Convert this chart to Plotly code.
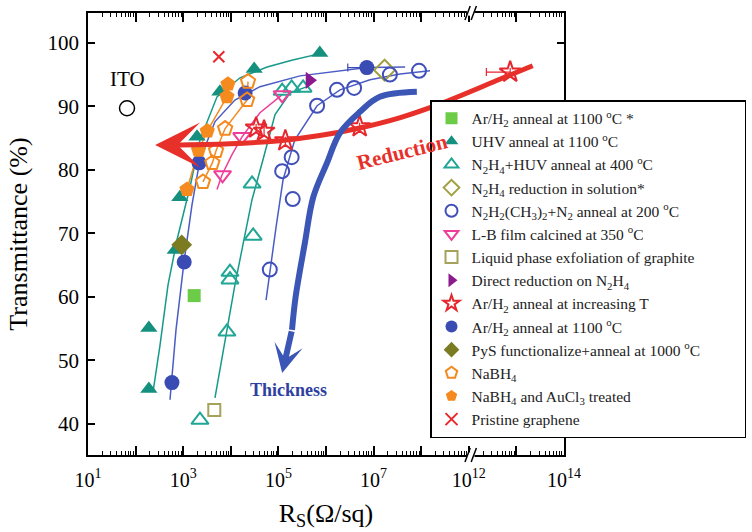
import numpy as np
import plotly.graph_objects as go

# ---------------- data (R in ohm/sq, T in %) ----------------
ito_R = [66]; ito_T = [89.7]
arh2_star_R = [1700]; arh2_star_T = [60.2]
uhv_R = [7.4e5, 3.1e4, 5.9e3, 1.95e3, 850, 680, 190, 190]
uhv_T = [98.4, 95.9, 92.3, 85.2, 75.7, 67.4, 55.1, 45.5]
huv_R = [2.25e3, 8.3e3, 9.6e3, 9.6e3, 2.95e4, 2.8e4, 1.2e5, 1.9e5, 3.3e5]
huv_T = [40.6, 54.5, 62.7, 63.9, 69.6, 77.8, 92.4, 92.9, 92.9]
sol_R = [1.7e7]; sol_T = [95.7]
dmh_R = [6.6e4, 2.0e5, 1.2e5, 1.9e5, 6.5e5, 1.7e6, 3.9e6, 2.2e7, 9e7]
dmh_T = [64.3, 75.4, 79.8, 82.0, 90.1, 92.6, 92.9, 95.0, 95.6]
lb_R = [1.2e5, 1.7e4, 6.7e3]; lb_T = [91.8, 85.2, 79.2]
lpe_R = [4.5e3]; lpe_T = [42.2]
direct_R = [4.5e5]; direct_T = [94.1]
incT_R = [3.4e4, 5e4, 1.4e5, 5.1e6, 7.4e12]; incT_T = [86.6, 86.1, 84.6, 86.8, 95.4]
incT_errminus = [0, 0, 0, 0, 0.5]   # decades
arh2_R = [580, 1050, 2150, 2e4, 7.2e6]; arh2_T = [46.5, 65.5, 81.1, 92.1, 96.1]
arh2_errminus = [0, 0, 0, 0, 0.4]
pys_R = [930]; pys_T = [68.2]
nabh4_R = [2.3e4, 2.2e4, 7.6e3, 4.9e3, 4.1e3, 2.6e3]; nabh4_T = [93.9, 91.0, 86.5, 83.0, 81.1, 78.1]
nabh4au_R = [8.7e3, 8.3e3, 3.2e3, 2.1e3, 1.2e3]; nabh4au_T = [93.5, 91.5, 86.1, 83.1, 76.9]
pristine_R = [5.6e3]; pristine_T = [97.8]

# guide curves
uhv_fit_R = [232, 326, 480, 741, 1390, 2250, 5130, 1.56e4, 5.8e4, 2.0e5, 7.5e5]
uhv_fit_T = [45.0, 52.4, 61.9, 69.0, 77.3, 84.7, 91.5, 94.5, 96.2, 97.3, 98.3]
huv_fit_R = [4650, 7550, 1.22e4, 1.89e4, 2.79e4, 4.74e4, 8.5e4, 1.75e5, 4.0e5]
huv_fit_T = [44.1, 53.2, 61.9, 69.0, 75.3, 81.6, 88.7, 92.1, 93.1]
dmh_fit_R = [5.5e4, 6.7e4, 8.9e4, 1.25e5, 2.2e5, 6.5e5, 1.97e6, 8.4e6, 3.6e7, 1.53e8]
dmh_fit_T = [59.5, 64.3, 70.9, 78.4, 84.7, 90.1, 92.6, 94.2, 95.1, 95.6]
arh2_fit_R = [528, 706, 1040, 1530, 2250, 4660, 1.22e4, 4.1e4, 2.85e5, 1.97e6, 7.3e6, 4.6e7]
arh2_fit_T = [43.8, 54.8, 65.5, 74.5, 81.6, 87.6, 91.0, 93.1, 94.8, 95.6, 96.1, 96.2]
lb_fit_R = [5130, 6530, 1.06e4, 1.72e4, 4.1e4, 1.19e5]
lb_fit_T = [76.9, 79.2, 82.4, 85.2, 89.0, 91.8]

# guide arrows (last point = arrow tip)
red_R = [2.2e13, 4.6e12, 2.5e8, 3.5e7, 5.1e6, 7.4e5, 1.07e5, 9600, 530, 257]
red_T = [96.4, 94.3, 90.4, 88.2, 86.6, 85.4, 84.6, 84.1, 83.9, 83.9]
blue_R = [8.1e7, 1.35e7, 5.1e6, 1.95e6, 1.05e6, 5.4e5, 3.6e5, 2.3e5, 1.93e5, 1.2e5]
blue_T = [92.3, 91.5, 89.1, 85.8, 81.1, 75.7, 68.5, 60.0, 54.8, 48.0]

label_text = ["Reduction", "Thickness", "ITO"]
label_R = [4.0e7, 1.6e5, 66]
label_T = [82.8, 45.4, 89.7]

x_tick_exp = [1, 3, 5, 7, 12, 14]


def xu(R):
    L = np.log10(np.asarray(R, dtype=float))
    return np.where(L > 10.5, L - 3.0, L)


FONT = "Liberation Serif"
TEAL = "#16998a"
PAD = "&nbsp;" * 10
fig = go.Figure()

# guide lines
for R, T, c in [(uhv_fit_R, uhv_fit_T, TEAL), (huv_fit_R, huv_fit_T, TEAL),
                (dmh_fit_R, dmh_fit_T, "#4b5cc4"), (arh2_fit_R, arh2_fit_T, "#4b5cc4"),
                (lb_fit_R, lb_fit_T, "#ee3e9a"), (nabh4_R, nabh4_T, "#f28a20"),
                (nabh4au_R, nabh4au_T, "#f28a20")]:
    fig.add_trace(go.Scatter(x=xu(R), y=T, mode="lines", line=dict(color=c, width=1.5),
                             showlegend=False, hoverinfo="skip"))

# ITO
fig.add_trace(go.Scatter(x=xu(ito_R), y=ito_T, mode="markers",
                         marker=dict(symbol="circle-open", size=15, color="black", line=dict(width=1.5)),
                         showlegend=False))

series = [
    ("Ar/H<sub>2</sub> anneal at 1100 <sup>o</sup>C *", arh2_star_R, arh2_star_T, "square", "#6ccc48", 13, None),
    ("UHV anneal at 1100 <sup>o</sup>C", uhv_R, uhv_T, "triangle-up", "#15907f", 15, None),
    ("N<sub>2</sub>H<sub>4</sub>+HUV anneal at 400 <sup>o</sup>C", huv_R, huv_T, "triangle-up-open", "#21a695", 15, None),
    ("N<sub>2</sub>H<sub>4</sub> reduction in solution*", sol_R, sol_T, "diamond-open", "#a0a040", 16, None),
    ("N<sub>2</sub>H<sub>2</sub>(CH<sub>3</sub>)<sub>2</sub>+N<sub>2</sub> anneal at 200 <sup>o</sup>C", dmh_R, dmh_T, "circle-open", "#4050b8", 14, None),
    ("L-B film calcined at 350 <sup>o</sup>C", lb_R, lb_T, "triangle-down-open", "#ee3e9a", 15, None),
    ("Liquid phase exfoliation of graphite", lpe_R, lpe_T, "square-open", "#a5a25c", 12, None),
    ("Direct reduction on N<sub>2</sub>H<sub>4</sub>", direct_R, direct_T, "triangle-right", "#8a1a8e", 15, None),
    ("Ar/H<sub>2</sub> anneal at increasing T", incT_R, incT_T, "star-open", "#e6262d", 16, incT_errminus),
    ("Ar/H<sub>2</sub> anneal at 1100 <sup>o</sup>C", arh2_R, arh2_T, "circle", "#3a4bb3", 15, arh2_errminus),
    ("PyS functionalize+anneal at 1000 <sup>o</sup>C" + PAD, pys_R, pys_T, "diamond", "#7b7b22", 16, None),
    ("NaBH<sub>4</sub>", nabh4_R, nabh4_T, "pentagon-open", "#f28a20", 15, None),
    ("NaBH<sub>4</sub> and AuCl<sub>3</sub> treated", nabh4au_R, nabh4au_T, "pentagon", "#f58a1e", 16, None),
    ("Pristine graphene", pristine_R, pristine_T, "x-thin-open", "#e8282c", 11, None),
]
for name, R, T, sym, col, sz, err in series:
    openm = sym.endswith("open")
    mk = dict(symbol=sym, size=sz, color=col,
              line=dict(width=2 if openm else 0, color=col))
    kw = {}
    if err is not None:
        kw["error_x"] = dict(type="data", symmetric=False, array=[0] * len(err), arrayminus=err,
                             color=col, thickness=1.2, width=4)
    fig.add_trace(go.Scatter(x=xu(R), y=T, mode="markers", name=name, marker=mk, **kw))

# thick guide arrows
fig.add_trace(go.Scatter(x=xu(red_R[:-1]), y=red_T[:-1], mode="lines", line=dict(color="#e8302a", width=5, shape="spline"),
                         showlegend=False, hoverinfo="skip"))
fig.add_trace(go.Scatter(x=xu(blue_R[:-1]), y=blue_T[:-1], mode="lines", line=dict(color="#3b56b5", width=6, shape="spline"),
                         showlegend=False, hoverinfo="skip"))

ux_red = xu(red_R); ux_blue = xu(blue_R)
fig.add_annotation(x=ux_red[-1], y=red_T[-1], ax=ux_red[-2], ay=red_T[-2], axref="x", ayref="y",
                   xref="x", yref="y", showarrow=True, arrowhead=3, arrowsize=1.5, arrowwidth=5,
                   arrowcolor="#e8302a", text="")
fig.add_annotation(x=ux_blue[-1], y=blue_T[-1], ax=ux_blue[-2], ay=blue_T[-2], axref="x", ayref="y",
                   xref="x", yref="y", showarrow=True, arrowhead=3, arrowsize=0.8, arrowwidth=6,
                   arrowcolor="#3b56b5", text="")

ulab = xu(label_R)
fig.add_annotation(x=ulab[0], y=label_T[0], text="<b>" + label_text[0] + "</b>", showarrow=False,
                   textangle=-14, font=dict(family=FONT, size=21, color="#e8302a"))
fig.add_annotation(x=ulab[1], y=label_T[1], text="<b>" + label_text[1] + "</b>", showarrow=False,
                   font=dict(family=FONT, size=18, color="#2f3f9f"))
fig.add_annotation(x=ulab[2], y=label_T[2], text=label_text[2], showarrow=False, yshift=29,
                   font=dict(family=FONT, size=21, color="black"))

# axis break marks
for yb in (0.0, 1.0):
    fig.add_shape(type="rect", xref="x", yref="paper", x0=8.96, x1=9.12, y0=yb - 0.006, y1=yb + 0.006,
                  fillcolor="white", line=dict(width=0), layer="above")
    for dx in (0.0, 0.13):
        fig.add_shape(type="line", xref="x", yref="paper", x0=8.92 + dx, x1=9.03 + dx,
                      y0=yb - 0.016, y1=yb + 0.016, line=dict(color="black", width=1.5), layer="above")

tick_u = list(xu([10.0 ** e for e in x_tick_exp]))
major_u = list(range(1, 12))
ticktext = []
for u in major_u:
    if u in tick_u:
        ticktext.append("10<sup>%d</sup>" % x_tick_exp[tick_u.index(u)])
    else:
        ticktext.append("")
minor_u = [d + np.log10(k) for d in range(1, 11) for k in range(2, 10)]

fig.update_layout(
    width=752, height=532, margin=dict(l=88, r=188, t=13, b=77, autoexpand=False),
    plot_bgcolor="white", paper_bgcolor="white",
    font=dict(family=FONT, color="black", size=18),
    xaxis=dict(range=[1, 11], showgrid=False, zeroline=False, showline=True, linecolor="black",
               linewidth=1.5, mirror="ticks", ticks="inside", ticklen=9, tickwidth=1.5, tickcolor="black",
               tickmode="array", tickvals=major_u, ticktext=ticktext, ticklabelstandoff=6,
               tickfont=dict(family=FONT, size=20),
               minor=dict(tickmode="array", tickvals=minor_u, ticks="inside", ticklen=4, tickwidth=1,
                          tickcolor="black"),
               title=dict(text="R<sub>S</sub>(Ω/sq)", font=dict(family=FONT, size=26), standoff=14)),
    yaxis=dict(range=[35.1, 104.7], showgrid=False, zeroline=False, showline=True, linecolor="black",
               linewidth=1.5, mirror="ticks", ticks="inside", ticklen=7, tickwidth=1.5, tickcolor="black",
               tickvals=[40, 50, 60, 70, 80, 90, 100], tickfont=dict(family=FONT, size=21),
               ticklabelstandoff=3,
               title=dict(text="Transmittance (%)", font=dict(family=FONT, size=26), standoff=12)),
    legend=dict(x=0.7185, y=0.803, xanchor="left", yanchor="top", bgcolor="white",
                bordercolor="black", borderwidth=1.5, font=dict(family=FONT, size=15.5, color="#222"),
                tracegroupgap=0, itemsizing="constant"),
    showlegend=True,
)

fig.write_html("out.html")
